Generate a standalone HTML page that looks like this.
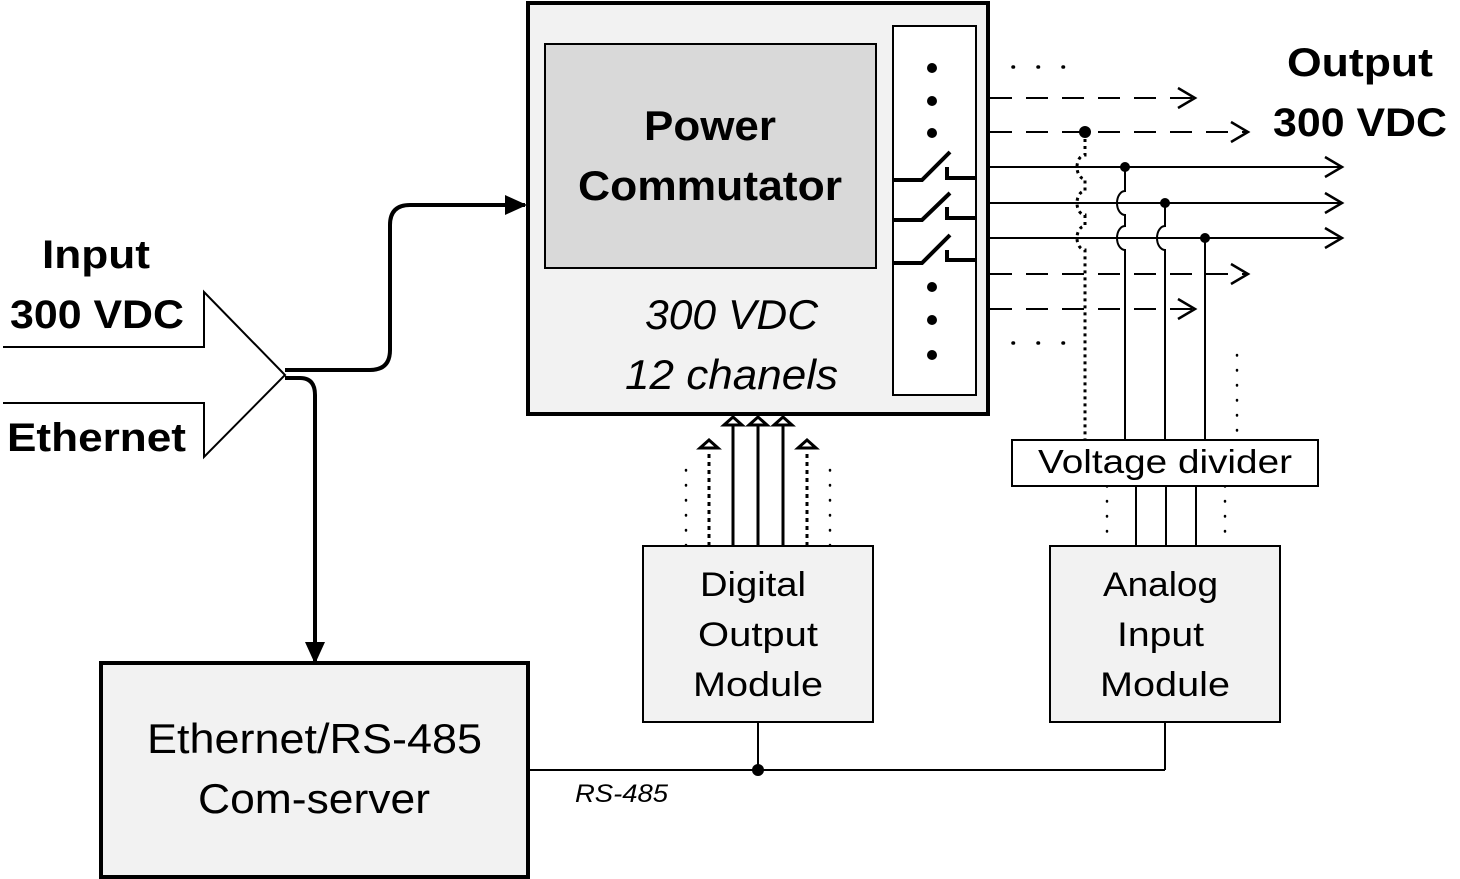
<!DOCTYPE html><html><head><style>body{margin:0;background:#fff}svg{display:block}text{font-family:"Liberation Sans",Calibri,sans-serif}</style></head><body>
<svg width="1460" height="879" viewBox="0 0 1460 879" xmlns="http://www.w3.org/2000/svg">
<defs>
<marker id="oa" markerWidth="22" markerHeight="24" refX="19" refY="12" orient="auto" markerUnits="userSpaceOnUse"><path d="M2,2 L19,12 L2,22" fill="none" stroke="#000" stroke-width="2.5"/></marker>
<marker id="fa" markerWidth="24" markerHeight="24" refX="20" refY="12" orient="auto" markerUnits="userSpaceOnUse"><path d="M0,2 L22,12 L0,22 Z" fill="#000"/></marker>
</defs>
<g stroke="#000" fill="none">
<rect x="528" y="3" width="460" height="411" fill="#f2f2f2" stroke-width="4"/>
<rect x="545" y="44" width="331" height="224" fill="#d9d9d9" stroke-width="2"/>
<rect x="893" y="26" width="83" height="369" fill="#fff" stroke-width="2"/>
<g stroke-width="4">
<path d="M893,180 H922 L950,152 M947,167 V178 H975"/>
<path d="M893,220 H922 L950,193 M947,207 V218 H975"/>
<path d="M893,263 H922 L950,235 M947,250 V260 H975"/>
</g>
<g stroke-width="2" stroke-dasharray="22,14">
<path d="M990,98 H1195" marker-end="url(#oa)"/>
<path d="M990,132 H1248" marker-end="url(#oa)"/>
<path d="M990,274 H1248" marker-end="url(#oa)"/>
<path d="M990,309 H1195" marker-end="url(#oa)"/>
</g>
<g stroke-width="2">
<path d="M990,167 H1342" marker-end="url(#oa)"/>
<path d="M990,203 H1342" marker-end="url(#oa)"/>
<path d="M990,238 H1342" marker-end="url(#oa)"/>
<path d="M1125,167 V191 A8,12 0 0 0 1125,215 V226 A8,12 0 0 0 1125,250 V440"/>
<path d="M1165,203 V226 A8,12 0 0 0 1165,250 V440"/>
<path d="M1205,238 V440"/>
<path d="M1136,486 V546 M1166,486 V546 M1196,486 V546"/>
<path d="M758,722 V770 M1165,722 V770 M528,770 H1165"/>
</g>
<path d="M1085,132 V155 A8,12 0 0 0 1085,179 V191 A8,12 0 0 0 1085,215 V226 A8,12 0 0 0 1085,250 V440" stroke-width="3" stroke-dasharray="3,4"/>
<g stroke-width="2.5" stroke-dasharray="0.5,14.5" stroke-linecap="round">
<path d="M1237,355 V440"/><path d="M1107,486 V546"/><path d="M1225,486 V546"/>
<path d="M686,470 V546"/><path d="M830,470 V546"/>
</g>
<g stroke-width="3.5" stroke-dasharray="0.5,24.5" stroke-linecap="round">
<path d="M1013,67 H1066"/><path d="M1013,343 H1066"/>
</g>
<rect x="1012" y="440" width="306" height="46" fill="#fff" stroke-width="2"/>
<rect x="1050" y="546" width="230" height="176" fill="#f2f2f2" stroke-width="2"/>
<rect x="643" y="546" width="230" height="176" fill="#f2f2f2" stroke-width="2"/>
<rect x="101" y="663" width="427" height="214" fill="#f2f2f2" stroke-width="4"/>
<g stroke-width="3">
<path d="M733,546 V424 M758,546 V424 M783,546 V424"/>
<path d="M709,546 V450 M807,546 V450" stroke-dasharray="4,4"/>
</g>
<g stroke-width="3" fill="#fff">
<path d="M724,425 L733,417 L742,425 Z"/><path d="M749,425 L758,417 L767,425 Z"/><path d="M774,425 L783,417 L792,425 Z"/>
<path d="M700,448 L709,440 L718,448 Z"/><path d="M798,448 L807,440 L816,448 Z"/>
</g>
<path d="M3,347 H204 V292 L285,375 L204,457 V403 H3" fill="#fff" stroke-width="2"/>
<path d="M285,370 H370 Q390,370 390,350 V225 Q390,205 410,205 H525" stroke-width="4" marker-end="url(#fa)"/>
<path d="M285,378 H300 Q315,378 315,395 V662" stroke-width="4" marker-end="url(#fa)"/>
</g>
<g fill="#000">
<circle cx="932" cy="68" r="5"/><circle cx="932" cy="101" r="5"/><circle cx="932" cy="133" r="5"/>
<circle cx="932" cy="287" r="5"/><circle cx="932" cy="320" r="5"/><circle cx="932" cy="355" r="5"/>
<circle cx="1085" cy="132" r="6"/><circle cx="1125" cy="167" r="5"/><circle cx="1165" cy="203" r="5"/><circle cx="1205" cy="238" r="5"/>
<circle cx="758" cy="770" r="6"/>
</g>
<g fill="#000">
<text x="644" y="140" font-size="42" font-weight="bold" textLength="132" lengthAdjust="spacingAndGlyphs">Power</text>
<text x="578" y="200" font-size="42" font-weight="bold" textLength="264" lengthAdjust="spacingAndGlyphs">Commutator</text>
<text x="645" y="329" font-size="42" font-style="italic" textLength="173" lengthAdjust="spacingAndGlyphs">300 VDC</text>
<text x="625" y="389" font-size="42" font-style="italic" textLength="213" lengthAdjust="spacingAndGlyphs">12 chanels</text>
<text x="42" y="268" font-size="40" font-weight="bold" textLength="108" lengthAdjust="spacingAndGlyphs">Input</text>
<text x="10" y="328" font-size="40" font-weight="bold" textLength="174" lengthAdjust="spacingAndGlyphs">300 VDC</text>
<text x="7" y="451" font-size="40" font-weight="bold" textLength="179" lengthAdjust="spacingAndGlyphs">Ethernet</text>
<text x="1287" y="76" font-size="40" font-weight="bold" textLength="146" lengthAdjust="spacingAndGlyphs">Output</text>
<text x="1273" y="136" font-size="40" font-weight="bold" textLength="174" lengthAdjust="spacingAndGlyphs">300 VDC</text>
<text x="1038" y="473" font-size="33" textLength="254" lengthAdjust="spacingAndGlyphs">Voltage divider</text>
<text x="1103" y="596" font-size="34" textLength="115" lengthAdjust="spacingAndGlyphs">Analog</text>
<text x="1117" y="646" font-size="34" textLength="87" lengthAdjust="spacingAndGlyphs">Input</text>
<text x="1100" y="696" font-size="34" textLength="130" lengthAdjust="spacingAndGlyphs">Module</text>
<text x="700" y="596" font-size="34" textLength="106" lengthAdjust="spacingAndGlyphs">Digital</text>
<text x="698" y="646" font-size="34" textLength="120" lengthAdjust="spacingAndGlyphs">Output</text>
<text x="693" y="696" font-size="34" textLength="130" lengthAdjust="spacingAndGlyphs">Module</text>
<text x="147" y="753" font-size="42" textLength="335" lengthAdjust="spacingAndGlyphs">Ethernet/RS-485</text>
<text x="198" y="813" font-size="42" textLength="232" lengthAdjust="spacingAndGlyphs">Com-server</text>
<text x="575" y="802" font-size="25" font-style="italic" textLength="93" lengthAdjust="spacingAndGlyphs">RS-485</text>
</g>
</svg>
</body></html>
